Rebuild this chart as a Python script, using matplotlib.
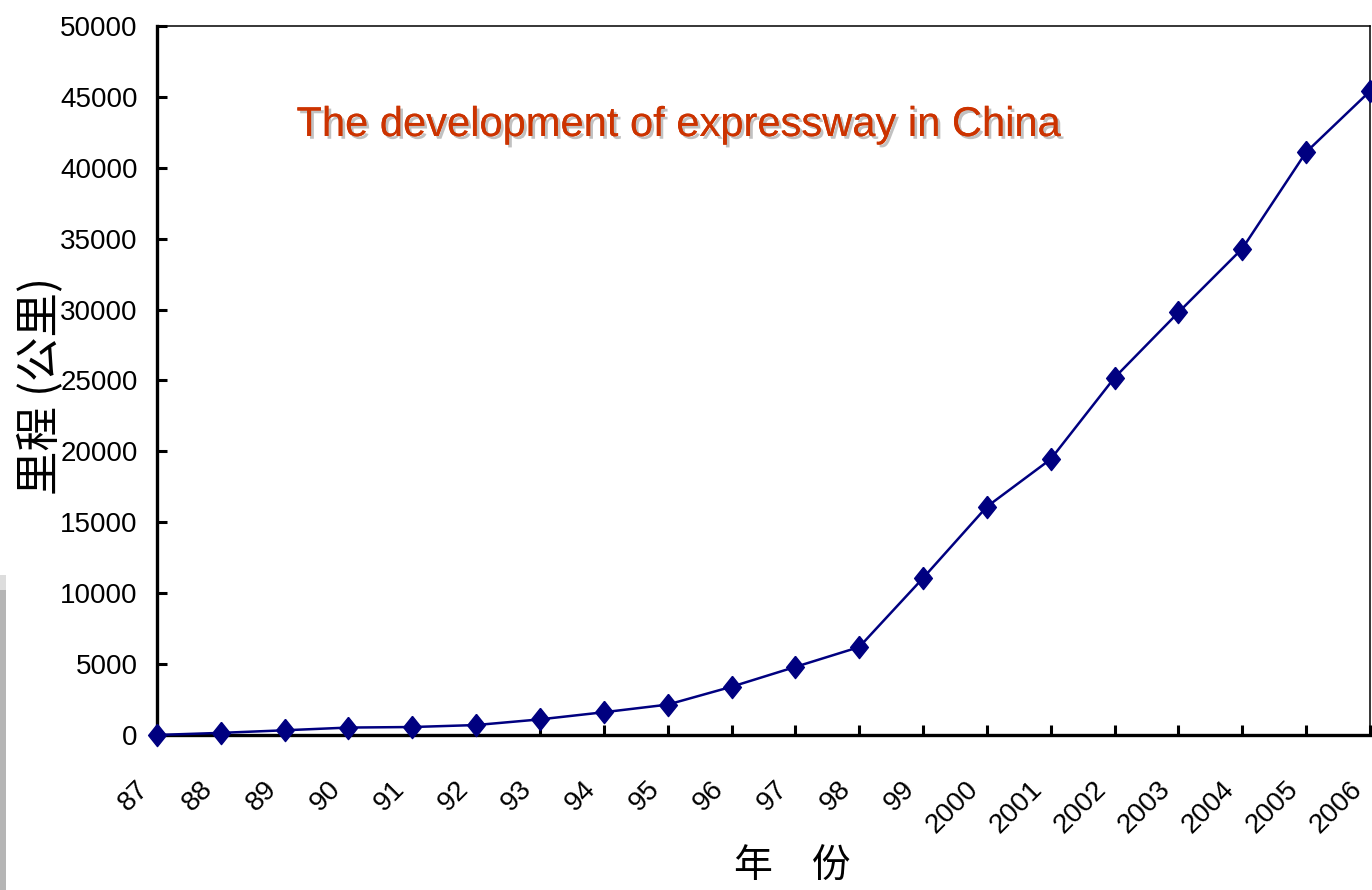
import matplotlib
matplotlib.use("Agg")
import matplotlib.pyplot as plt
import matplotlib.patheffects as pe
import matplotlib.transforms as mtransforms
from matplotlib.patches import Rectangle

years = ["87", "88", "89", "90", "91", "92", "93", "94", "95", "96", "97", "98", "99",
         "2000", "2001", "2002", "2003", "2004", "2005", "2006"]
length_km = [0, 147, 330, 522, 560, 700, 1100, 1603, 2141, 3400, 4800, 6200, 11065,
             16100, 19450, 25200, 29800, 34300, 41100, 45400]
yticks = [0, 5000, 10000, 15000, 20000, 25000, 30000, 35000, 40000, 45000, 50000]

plt.rcParams['font.family'] = ['Liberation Sans', 'Noto Sans CJK SC', 'DejaVu Sans']

fig = plt.figure(figsize=(13.72, 8.9), dpi=100)

# faint grey strip at the far left edge of the slide
fig.patches.append(Rectangle((0, 0), 6 / 1372, 300 / 890, transform=fig.transFigure,
                             facecolor='#b5b5b5', edgecolor='none', zorder=0))
fig.patches.append(Rectangle((0, 300 / 890), 6 / 1372, 15 / 890, transform=fig.transFigure,
                             facecolor='#dddddd', edgecolor='none', zorder=0))

ax = fig.add_axes([0.1144, 0.1742, 0.8841, 0.7966])

x = list(range(len(years)))
diamond = [(0, 1), (0.8, 0), (0, -1), (-0.8, 0), (0, 1)]
ax.plot(x, length_km, color='#000080', linewidth=1.8, marker=diamond, markersize=16,
        markerfacecolor='#000080', markeredgecolor='#000080', clip_on=False, zorder=5)

ax.set_xlim(0, len(years) - 1)
ax.set_ylim(0, 50000)
ax.set_yticks(yticks)
ax.set_yticklabels([str(v) for v in yticks], fontsize=20)
ax.set_xticks(x)
ax.set_xticklabels(years, fontsize=20, rotation=45, ha='right', va='center',
                   rotation_mode='anchor')

ax.spines['left'].set_linewidth(2.4)
ax.spines['bottom'].set_linewidth(2.4)
ax.spines['top'].set_linewidth(1.1)
ax.spines['right'].set_linewidth(1.1)
ax.tick_params(axis='y', direction='in', length=7, width=2.2, pad=14)
ax.tick_params(axis='x', direction='in', length=7, width=2.2, pad=36)

shift = mtransforms.ScaledTranslation(-12 / 100, 0, fig.dpi_scale_trans)
for lab in ax.get_xticklabels():
    lab.set_transform(lab.get_transform() + shift)

fig.text(40 / 1372, 1 - 386 / 890, '里程 (公里)', fontsize=32, rotation=90,
         ha='center', va='center', family=['Noto Sans CJK SC', 'DejaVu Sans'])
fig.text(792 / 1372, 1 - 866 / 890, '年　份', fontsize=28, ha='center', va='center',
         family=['Noto Sans CJK SC', 'DejaVu Sans'])

fig.text(678 / 1372, 1 - 125 / 890, 'The development of expressway in China', fontsize=30,
         color='#CC3300', ha='center', va='center',
         path_effects=[pe.withSimplePatchShadow(offset=(2, -2), shadow_rgbFace='#999999',
                                                alpha=0.6), pe.Normal()])

fig.savefig('out.png', dpi=100)
